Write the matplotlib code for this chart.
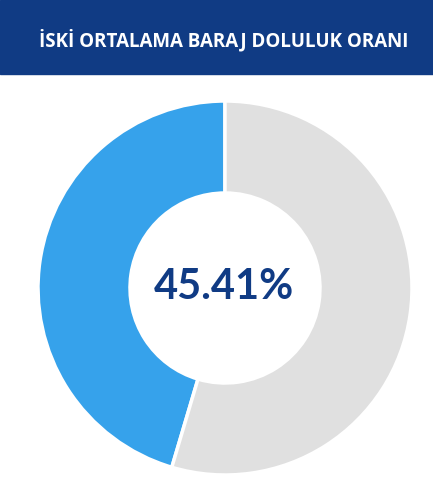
import matplotlib
matplotlib.use("Agg")
import matplotlib.pyplot as plt
from matplotlib.patches import Rectangle

title = "İSKİ ORTALAMA BARAJ DOLULUK ORANI"
labels = ["Dolu", "Boş"]
values = [45.41, 54.59]
colors = ["#36a2eb", "#e0e0e0"]
HEADER = "#103b84"

W, H = 433, 486
fig = plt.figure(figsize=(W / 100, H / 100), dpi=100)
ax = fig.add_axes([0, 0, 1, 1])
ax.set_xlim(0, W)
ax.set_ylim(0, H)
ax.axis("off")

# header band
ax.add_patch(Rectangle((0, H - 74), W, 74, color=HEADER, zorder=1))
ax.text(224, H - 40, title, color="white", fontsize=13.5, fontweight="bold",
        family="Open Sans", ha="center", va="center", zorder=2)

# donut
ax.pie(values, colors=colors, startangle=90, counterclock=True,
       center=(225, H - 288), radius=187,
       wedgeprops=dict(width=92, edgecolor="white", linewidth=2.5))
ax.set_xlim(0, W)
ax.set_ylim(0, H)
ax.set_aspect("auto")

ax.text(224, H - 287, f"{values[0]:.2f}%", color=HEADER, fontsize=30,
        fontweight="bold", family="Lato", ha="center", va="center")

fig.savefig("out.png", dpi=100)
